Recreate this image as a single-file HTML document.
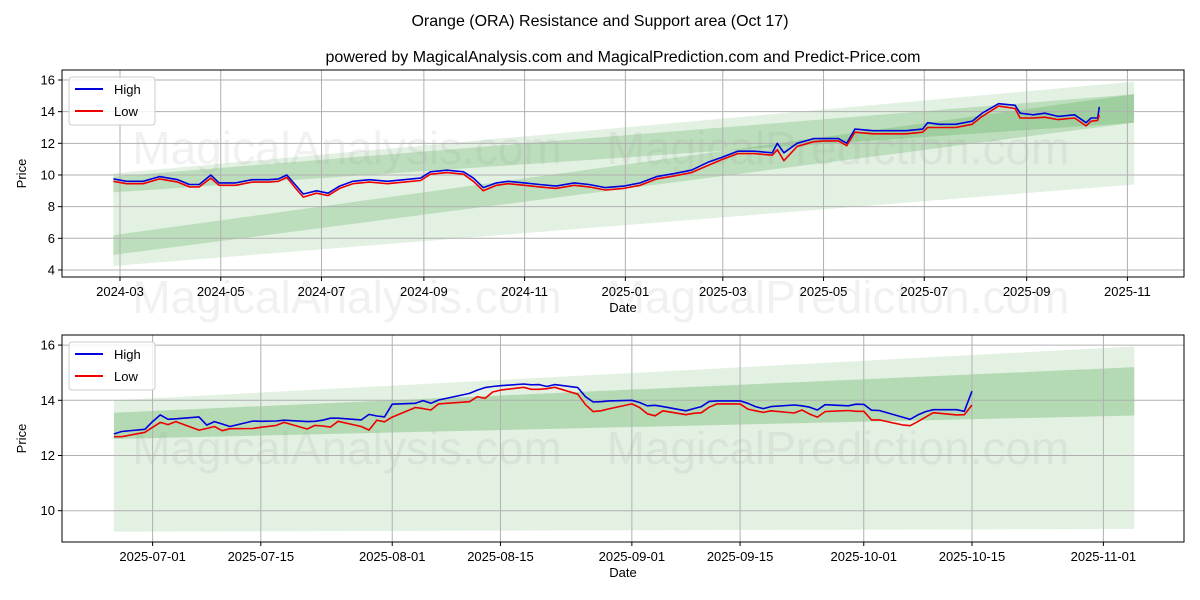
<!DOCTYPE html>
<html><head><meta charset="utf-8"><style>
body{margin:0;background:#fff;}
svg{display:block;font-family:"Liberation Sans","DejaVu Sans",sans-serif;}
</style></head><body>
<svg id="chart" width="1200" height="600" xmlns="http://www.w3.org/2000/svg">
<text x="600" y="26" text-anchor="middle" font-size="16">Orange (ORA) Resistance and Support area (Oct 17)</text>
<text x="623" y="62" text-anchor="middle" font-size="16">powered by MagicalAnalysis.com and MagicalPrediction.com and Predict-Price.com</text>
</svg>
<script>
// ---- top chart data ----
const topDates=["2024-02-26","2024-03-05","2024-03-15","2024-03-25","2024-04-05","2024-04-12","2024-04-18","2024-04-25","2024-04-30","2024-05-10","2024-05-20","2024-05-30","2024-06-05","2024-06-10","2024-06-15","2024-06-20","2024-06-28","2024-07-05","2024-07-12","2024-07-20","2024-07-30","2024-08-10","2024-08-20","2024-08-30","2024-09-05","2024-09-15","2024-09-25","2024-10-01","2024-10-07","2024-10-15","2024-10-22","2024-11-01","2024-11-10","2024-11-20","2024-12-01","2024-12-10","2024-12-20","2024-12-31","2025-01-10","2025-01-20","2025-01-31","2025-02-10","2025-02-20","2025-02-28","2025-03-10","2025-03-20","2025-03-31","2025-04-03","2025-04-07","2025-04-15","2025-04-25","2025-05-01","2025-05-10","2025-05-15","2025-05-20","2025-05-31","2025-06-10","2025-06-20","2025-06-30","2025-07-03","2025-07-10","2025-07-20","2025-07-30","2025-08-05","2025-08-15","2025-08-25","2025-08-28","2025-09-05","2025-09-12","2025-09-20","2025-09-30","2025-10-07","2025-10-10","2025-10-14","2025-10-15"];
const topHigh=[9.75,9.6,9.6,9.9,9.7,9.4,9.4,10.0,9.5,9.5,9.7,9.7,9.75,10.0,9.4,8.8,9.0,8.85,9.3,9.6,9.7,9.6,9.7,9.8,10.2,10.3,10.2,9.8,9.2,9.5,9.6,9.5,9.4,9.3,9.5,9.4,9.2,9.3,9.5,9.9,10.1,10.3,10.8,11.1,11.5,11.5,11.4,12.0,11.4,12.0,12.3,12.3,12.3,12.0,12.9,12.8,12.8,12.8,12.9,13.3,13.2,13.2,13.4,13.9,14.5,14.4,13.9,13.8,13.9,13.7,13.8,13.3,13.6,13.6,14.3];
const topLow=[9.6,9.45,9.45,9.75,9.55,9.25,9.25,9.8,9.35,9.35,9.55,9.55,9.6,9.85,9.2,8.6,8.85,8.7,9.15,9.45,9.55,9.45,9.55,9.65,10.05,10.15,10.05,9.6,9.0,9.35,9.45,9.35,9.25,9.15,9.35,9.25,9.05,9.15,9.35,9.75,9.95,10.15,10.6,10.95,11.35,11.35,11.25,11.6,10.9,11.8,12.1,12.15,12.15,11.85,12.7,12.6,12.6,12.6,12.7,13.0,13.0,13.0,13.2,13.7,14.35,14.2,13.6,13.6,13.65,13.5,13.6,13.1,13.4,13.45,13.8];
// band edge values [start, end]
const topLightBand=[[10.1,15.9],[4.25,9.4]];
const topDarkBandA=[[6.2,15.1],[4.95,13.3]];
const topDarkBandB=[[9.9,15.1],[8.9,13.3]];
const topYTicks=[4,6,8,10,12,14,16];
const topXTicks=["2024-03-01","2024-05-01","2024-07-01","2024-09-01","2024-11-01","2025-01-01","2025-03-01","2025-05-01","2025-07-01","2025-09-01","2025-11-01"];
const topXLabels=["2024-03","2024-05","2024-07","2024-09","2024-11","2025-01","2025-03","2025-05","2025-07","2025-09","2025-11"];
// ---- bottom chart data ----
const botDates=["2025-06-26","2025-06-27","2025-06-30","2025-07-01","2025-07-02","2025-07-03","2025-07-04","2025-07-07","2025-07-08","2025-07-09","2025-07-10","2025-07-11","2025-07-14","2025-07-15","2025-07-17","2025-07-18","2025-07-21","2025-07-22","2025-07-23","2025-07-24","2025-07-25","2025-07-28","2025-07-29","2025-07-30","2025-07-31","2025-08-01","2025-08-04","2025-08-05","2025-08-06","2025-08-07","2025-08-08","2025-08-11","2025-08-12","2025-08-13","2025-08-14","2025-08-15","2025-08-18","2025-08-19","2025-08-20","2025-08-21","2025-08-22","2025-08-25","2025-08-26","2025-08-27","2025-08-28","2025-08-29","2025-09-01","2025-09-02","2025-09-03","2025-09-04","2025-09-05","2025-09-08","2025-09-09","2025-09-10","2025-09-11","2025-09-12","2025-09-15","2025-09-16","2025-09-17","2025-09-18","2025-09-19","2025-09-22","2025-09-23","2025-09-24","2025-09-25","2025-09-26","2025-09-29","2025-09-30","2025-10-01","2025-10-02","2025-10-03","2025-10-06","2025-10-07","2025-10-08","2025-10-09","2025-10-10","2025-10-13","2025-10-14","2025-10-15"];
const botHigh=[12.78,12.87,12.95,13.23,13.47,13.31,13.33,13.4,13.1,13.23,13.14,13.05,13.25,13.24,13.25,13.28,13.23,13.24,13.28,13.35,13.35,13.29,13.49,13.43,13.4,13.86,13.89,13.99,13.89,14.01,14.07,14.25,14.37,14.46,14.5,14.53,14.59,14.56,14.57,14.5,14.57,14.46,14.13,13.94,13.95,13.98,14.0,13.92,13.8,13.82,13.77,13.62,13.7,13.77,13.96,13.98,13.98,13.89,13.77,13.7,13.77,13.83,13.8,13.75,13.65,13.84,13.8,13.86,13.85,13.64,13.63,13.39,13.31,13.47,13.59,13.66,13.66,13.6,14.33];
const botLow=[12.68,12.68,12.84,13.02,13.2,13.12,13.23,12.92,12.98,13.05,12.9,12.97,12.98,13.02,13.09,13.2,12.96,13.09,13.07,13.03,13.24,13.05,12.92,13.28,13.22,13.39,13.74,13.7,13.65,13.87,13.89,13.95,14.13,14.07,14.3,14.37,14.47,14.4,14.4,14.42,14.47,14.22,13.84,13.59,13.62,13.69,13.87,13.74,13.51,13.44,13.62,13.48,13.53,13.55,13.75,13.87,13.87,13.68,13.62,13.56,13.62,13.54,13.65,13.5,13.39,13.59,13.63,13.6,13.6,13.29,13.29,13.11,13.08,13.23,13.39,13.55,13.47,13.48,13.83];
const botLightBand=[[14.0,15.95],[9.24,9.34]];
const botDarkBand=[[13.55,15.2],[12.6,13.45]];
const botYTicks=[10,12,14,16];
const botXTicks=["2025-07-01","2025-07-15","2025-08-01","2025-08-15","2025-09-01","2025-09-15","2025-10-01","2025-10-15","2025-11-01"];

const NS="http://www.w3.org/2000/svg";
const svg=document.getElementById('chart');
function mk(tag,attrs,parent){const e=document.createElementNS(NS,tag);for(const k in attrs)e.setAttribute(k,attrs[k]);(parent||svg).appendChild(e);return e;}
function day(s){return Date.UTC(+s.slice(0,4),+s.slice(5,7)-1,+s.slice(8,10))/864e5;}

function drawPanel(cfg){
  const g=mk('g',{});
  
  
  const xs=d=>cfg.x0+(day(d)-day(cfg.d0))*cfg.pxDay;
  const ys=v=>cfg.y0+(cfg.v0-v)*cfg.pxUnit;
  const L=62,R=1184,T=cfg.top,B=cfg.bottom;
  const bs=cfg.bandStart,be=cfg.bandEnd;
  cfg.bands.forEach((b,i)=>{
    const p=mk('polygon',{points:`${xs(bs)},${ys(b[0][0])} ${xs(be)},${ys(b[0][1])} ${xs(be)},${ys(b[1][1])} ${xs(bs)},${ys(b[1][0])}`,fill:b.fill},g);
    
    
  });
  cfg.wm.forEach(w=>{
    const t=mk('text',{x:w[1],y:w[2],'text-anchor':'middle','font-size':46,fill:'#888','fill-opacity':0.12},g);
    t.textContent=w[0];
    
    
  });
  cfg.yTicks.forEach(v=>{
    const y=ys(v);
    mk('line',{x1:L,x2:R,y1:y,y2:y,stroke:'#b0b0b0','stroke-width':1},g);
    mk('line',{x1:L-4,x2:L,y1:y,y2:y,stroke:'#000'},g);
    const t=mk('text',{x:L-7,y:y+4.5,'text-anchor':'end','font-size':13},g);
    t.textContent=v;
    
    
  });
  cfg.xTicks.forEach((d,i)=>{
    const x=xs(d);
    mk('line',{x1:x,x2:x,y1:T,y2:B,stroke:'#b0b0b0','stroke-width':1},g);
    mk('line',{x1:x,x2:x,y1:B,y2:B+4,stroke:'#000'},g);
    const t=mk('text',{x:x,y:B+19,'text-anchor':'middle','font-size':13},g);
    t.textContent=cfg.xLabels[i];
    
    
  });
  [['high',cfg.high,'#0000dd'],['low',cfg.low,'#ee0000']].forEach(s=>{
    const pts=cfg.dates.map((d,i)=>xs(d).toFixed(1)+','+ys(s[1][i]).toFixed(1)).join(' ');
    const pl=mk('polyline',{points:pts,fill:'none',stroke:s[2],'stroke-width':1.6,'stroke-linejoin':'round'},g);
    
    
  });
  mk('rect',{x:L,y:T,width:R-L,height:B-T,fill:'none',stroke:'#000','stroke-width':1},g);
  const xl=mk('text',{x:623,y:B+35,'text-anchor':'middle','font-size':13},g);
  xl.textContent='Date';
  
  
  const yl=mk('text',{x:26,y:(T+B)/2,'text-anchor':'middle','font-size':13,transform:`rotate(-90 26 ${(T+B)/2})`},g);
  yl.textContent='Price';
  
  
  const lg=mk('g',{},g);
  
  
  const ly=T+7;
  mk('rect',{x:69,y:ly,width:86,height:48,rx:3,fill:'#fff','fill-opacity':0.85,stroke:'#ccc'},lg);
  [['High','#0000dd',0],['Low','#ee0000',22]].forEach(e=>{
    mk('line',{x1:75,x2:103,y1:ly+12+e[2],y2:ly+12+e[2],stroke:e[1],'stroke-width':2},lg);
    const t=mk('text',{x:114,y:ly+17+e[2],'font-size':13},lg);
    t.textContent=e[0];
    
    
  });
}
const light='rgba(40,150,40,0.13)', dark='rgba(40,150,40,0.2)';
drawPanel({name:'top-panel',top:70,bottom:277,x0:120,d0:'2024-03-01',pxDay:1.6515,y0:80,v0:16,pxUnit:15.83,
  bandStart:'2024-02-26',bandEnd:'2025-11-05',
  bands:[Object.assign(topLightBand.slice(),{fill:light}),Object.assign(topDarkBandA.slice(),{fill:dark}),Object.assign(topDarkBandB.slice(),{fill:dark})],
  yTicks:topYTicks,xTicks:topXTicks,xLabels:topXLabels,dates:topDates,high:topHigh,low:topLow,
  wm:[['MagicalAnalysis.com',347,164],['MagicalPrediction.com',838,164],['MagicalAnalysis.com',347,313],['MagicalPrediction.com',838,313]]});
drawPanel({name:'bottom-panel',top:335,bottom:542,x0:152.6,d0:'2025-07-01',pxDay:7.73,y0:400.3,v0:14,pxUnit:27.6,
  bandStart:'2025-06-26',bandEnd:'2025-11-05',
  bands:[Object.assign(botLightBand.slice(),{fill:light}),Object.assign(botDarkBand.slice(),{fill:'rgba(40,150,40,0.25)'})],
  yTicks:botYTicks,xTicks:botXTicks,xLabels:botXTicks,dates:botDates,high:botHigh,low:botLow,
  wm:[['MagicalAnalysis.com',347,464],['MagicalPrediction.com',838,464]]});
</script>
</body></html>
